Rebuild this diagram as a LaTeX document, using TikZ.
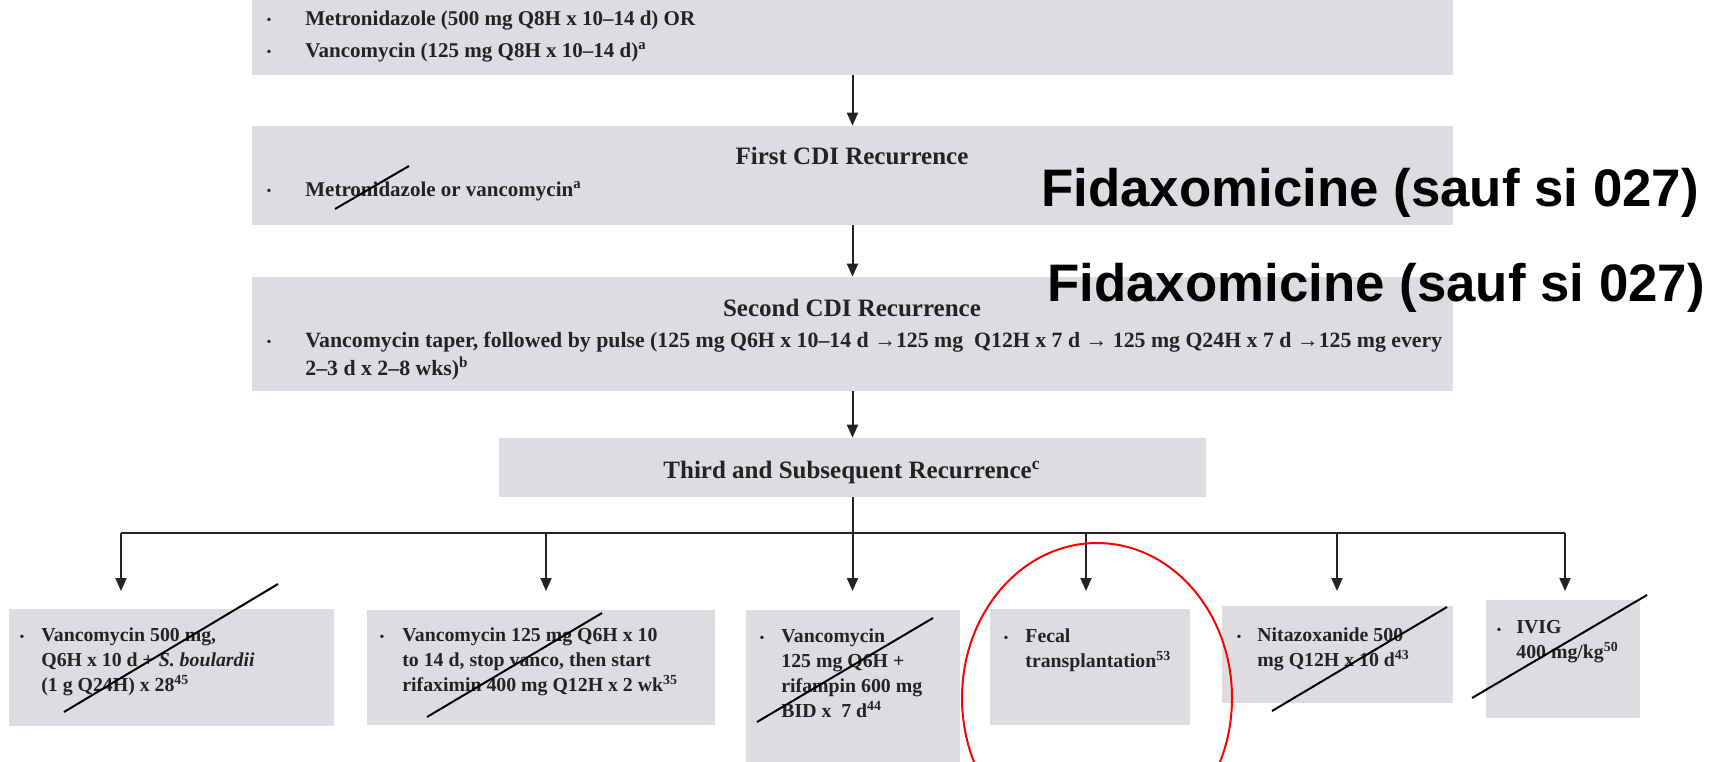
\documentclass[tikz,border=0pt]{standalone}
\usepackage{fontspec}
\setmainfont{Liberation Serif}
\newfontfamily\fidafont{Liberation Sans}
\usetikzlibrary{arrows.meta}
\definecolor{boxgray}{RGB}{221,221,225}
\definecolor{inkc}{RGB}{35,35,35}
\begin{document}
\begin{tikzpicture}[x=0.5pt,y=-0.5pt,
  gbox/.style={fill=boxgray,draw=none,inner sep=0,rectangle},
  arr/.style={draw=inkc,line width=1pt,-{Triangle[length=6.5pt,width=5.5pt]}},
  link/.style={draw=inkc,line width=1pt},
  strike/.style={draw=black,line width=1pt},
  txt/.style={inner sep=0,anchor=base west,font=\fontsize{10.5pt}{14pt}\selectfont\bfseries,text=inkc},
  head/.style={inner sep=0,anchor=base,font=\fontsize{12.5pt}{15pt}\selectfont\bfseries,text=inkc},
  small/.style={inner sep=0,anchor=north west,align=left,font=\fontsize{9.9pt}{12.6pt}\selectfont\bfseries,text=inkc},
  bul/.style={inner sep=0,anchor=base,font=\fontsize{7pt}{8pt}\selectfont,text=inkc},
  fida/.style={inner sep=0,anchor=base west,font=\fontsize{26.4pt}{30pt}\fidafont\bfseries,text=black}]
\useasboundingbox (0,0) rectangle (1719,761);
\fill[white] (0,0) rectangle (1719,761);
% main boxes
\node[gbox,minimum width=600.5pt,minimum height=38pt] (b1) at (852.5,37) {};
\node[gbox,minimum width=600.5pt,minimum height=49.5pt] (b2) at (852.5,175.5) {};
\node[gbox,minimum width=600.5pt,minimum height=57pt] (b3) at (852.5,334) {};
\node[gbox,minimum width=353.5pt,minimum height=29.5pt] (b4) at (852.5,467.5) {};
% bottom boxes
\node[gbox,minimum width=162.5pt,minimum height=58.5pt] (c1) at (171.5,667.5) {};
\node[gbox,minimum width=174pt,minimum height=57.5pt] (c2) at (541,667.5) {};
\node[gbox,minimum width=107pt,minimum height=82.5pt] (c3) at (853,692.5) {};
\node[gbox,minimum width=100pt,minimum height=58pt] (c4) at (1090,667) {};
\node[gbox,minimum width=115.5pt,minimum height=48.5pt] (c5) at (1337.5,654.5) {};
\node[gbox,minimum width=77pt,minimum height=59pt] (c6) at (1563,659) {};
% box 1 text
\node[bul] (u1) at (269,24) {•};
\node[bul] (u2) at (269,56) {•};
\node[txt] (t1) at (305,25) {Metronidazole (500 mg Q8H x 10–14 d) OR};
\node[txt] (t2) at (305,57) {Vancomycin (125 mg Q8H x 10–14 d)\textsuperscript{a}};
% box 2 text
\node[head] (h2) at (852,164) {First CDI Recurrence};
\node[bul] (u3) at (269,195) {•};
\node[txt] (t3) at (305,196) {Metronidazole or vancomycin\textsuperscript{a}};
% box 3 text
\node[head] (h3) at (852,316) {Second CDI Recurrence};
\node[bul] (u4) at (269,346) {•};
\node[txt,font=\fontsize{10.9pt}{14pt}\selectfont\bfseries] (t4) at (305,347) {Vancomycin taper, followed by pulse (125 mg Q6H x 10–14 d →125 mg\ \ Q12H x 7 d → 125 mg Q24H x 7 d →125 mg every};
\node[txt,font=\fontsize{10.9pt}{14pt}\selectfont\bfseries] (t5) at (305,375) {2–3 d x 2–8 wks)\textsuperscript{b}};
% box 4 text
\node[head] (h4) at (852,478) {Third and Subsequent Recurrence\textsuperscript{c}};
% bottom texts
\node[bul] (u5) at (22,641) {•};
\node[small] (s1) at (41,627) {Vancomycin 500 mg,\\Q6H x 10 d + \textit{S. boulardii}\\(1 g Q24H) x 28\textsuperscript{45}};
\node[bul] (u6) at (382,641) {•};
\node[small] (s2) at (402,627) {Vancomycin 125 mg Q6H x 10\\to 14 d, stop vanco, then start\\rifaximin 400 mg Q12H x 2 wk\textsuperscript{35}};
\node[bul] (u7) at (762,642) {•};
\node[small] (s3) at (781,628) {Vancomycin\\125 mg Q6H +\\rifampin 600 mg\\BID x\ \ 7 d\textsuperscript{44}};
\node[bul] (u8) at (1006,642) {•};
\node[small] (s4) at (1025,628) {Fecal\\transplantation\textsuperscript{53}};
\node[bul] (u9) at (1239,641) {•};
\node[small] (s5) at (1257,627) {Nitazoxanide 500\\mg Q12H x 10 d\textsuperscript{43}};
\node[bul] (u10) at (1499,634) {•};
\node[small] (s6) at (1516,620) {IVIG\\400 mg/kg\textsuperscript{50}};
% connectors
\draw[arr] (b1.south) -- (b2.north);
\draw[arr] (b2.south) -- (b3.north);
\draw[arr] (b3.south) -- (b4.north);
\coordinate (split) at (852.5,533);
\coordinate (hl) at (121,533);
\coordinate (hr) at (1565,533);
\draw[link] (b4.south) -- (split);
\draw[link] (hl) -- (hr);
\foreach \i/\xx in {1/121,2/546,3/852.5,4/1086,5/1337,6/1565}{
  \coordinate (top\i) at (\xx,533);
  \coordinate (tip\i) at (\xx,591);
  \draw[arr] (top\i) -- (tip\i);
}
% strike-through lines
\draw[strike] (335,209) -- (409,166);
\draw[strike] (64,712) -- (278,584);
\draw[strike] (427,717) -- (602,613);
\draw[strike] (757,722) -- (933,618);
\draw[strike] (1272,711) -- (1447,607);
\draw[strike] (1472,698) -- (1647,595);
% red ellipse
\begin{scope}
\clip (0,0) rectangle (1719,761);
\draw[red,line width=1pt] (1097,698) ellipse [x radius=135, y radius=155];
\end{scope}
% Fidaxomicine annotations
\node[fida] (f1) at (1041,206) {Fidaxomicine (sauf si 027)};
\node[fida] (f2) at (1047,301) {Fidaxomicine (sauf si 027)};
\end{tikzpicture}
\end{document}
